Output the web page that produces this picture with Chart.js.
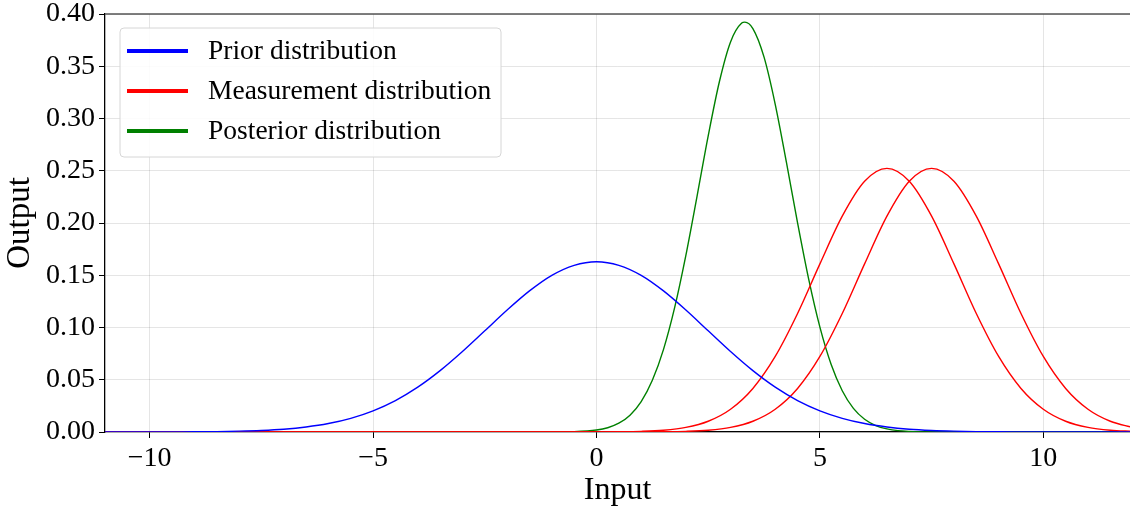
<!DOCTYPE html>
<html>
<head>
<meta charset="utf-8">
<script src="https://cdn.jsdelivr.net/npm/chart.js@4/dist/chart.umd.min.js"></script>
<style>
  html, body { margin: 0; padding: 0; background: #fff; overflow: hidden; }
  #wrap { width: 1130px; height: 509px; position: relative; }
</style>
</head>
<body>
<div id="wrap"><canvas id="c"></canvas></div>
<script>
// Input grid shared by the prior and the two measurement curves
const inputGrid = [
  -11, -10.5, -10, -9.5, -9, -8.5, -8, -7.5, -7, -6.5, -6, -5.5, -5, -4.5, -4, -3.5,
  -3, -2.5, -2, -1.5, -1, -0.5, 0, 0.5, 1, 1.5, 2, 2.5, 3, 3.5, 4, 4.5, 5, 5.5,
  6, 6.5, 7, 7.5, 8, 8.5, 9, 9.5, 10, 10.5, 11, 11.5, 12
];

const priorValues = [
  0.0000, 0.0000, 0.0000, 0.0001, 0.0002, 0.0004, 0.0008, 0.0015, 0.0027, 0.0048, 0.0081, 0.0131,
  0.0203, 0.0301, 0.0429, 0.0587, 0.0770, 0.0968, 0.1167, 0.1350, 0.1499, 0.1595,
  0.1629,
  0.1595, 0.1499, 0.1350, 0.1167, 0.0968, 0.0770, 0.0587, 0.0429, 0.0301, 0.0203, 0.0131,
  0.0081, 0.0048, 0.0027, 0.0015, 0.0008, 0.0004, 0.0002, 0.0001, 0.0000, 0.0000, 0.0000, 0.0000, 0.0000
];

const measurementAValues = [
  0, 0, 0, 0, 0, 0, 0, 0, 0, 0, 0, 0, 0, 0, 0, 0, 0, 0, 0, 0, 0, 0,
  0.0001, 0.0002, 0.0006, 0.0017, 0.0044, 0.0103, 0.0218, 0.0417, 0.0723, 0.1134, 0.1609, 0.2066,
  0.2400, 0.2523, 0.2400, 0.2066, 0.1609, 0.1134, 0.0723, 0.0417, 0.0218, 0.0103, 0.0044, 0.0017, 0.0006
];

const measurementBValues = [
  0, 0, 0, 0, 0, 0, 0, 0, 0, 0, 0, 0, 0, 0, 0, 0, 0, 0, 0, 0, 0, 0,
  0.0000, 0.0000, 0.0001, 0.0002, 0.0006, 0.0017, 0.0044, 0.0103, 0.0218, 0.0417, 0.0723, 0.1134,
  0.1609, 0.2066, 0.2400, 0.2523, 0.2400, 0.2066, 0.1609, 0.1134, 0.0723, 0.0417, 0.0218, 0.0103, 0.0044
];

// The posterior is narrow, so it gets a finer grid around its peak
const posteriorInput = [
  -11, -1, -0.5, 0, 0.25, 0.5, 0.75, 1, 1.25, 1.5, 1.75, 2, 2.25, 2.5, 2.75, 3, 3.25, 3.32,
  3.5, 3.75, 4, 4.25, 4.5, 4.75, 5, 5.25, 5.5, 5.75, 6, 6.25, 6.5, 6.75, 7, 7.5, 8, 12
];
const posteriorValues = [
  0, 0, 0.0003, 0.0019, 0.0041, 0.0084, 0.0161, 0.0291, 0.0495, 0.0791, 0.1192, 0.1690,
  0.2255, 0.2834, 0.3352, 0.3733, 0.3913, 0.3922, 0.3861, 0.3587, 0.3136, 0.2582, 0.2001,
  0.1460, 0.1003, 0.0648, 0.0395, 0.0226, 0.0122, 0.0062, 0.0030, 0.0013, 0.0006, 0.0001, 0, 0
];

const xTicks = [-10, -5, 0, 5, 10];
const yTicks = [0, 0.05, 0.10, 0.15, 0.20, 0.25, 0.30, 0.35, 0.40];

const legendLabels = ['Prior distribution', 'Measurement distribution', 'Posterior distribution'];
const legendColors = ['#0000ff', '#ff0000', '#008000'];

const SERIF = '"Liberation Serif", "DejaVu Serif", "Times New Roman", serif';

function pairs(xs, ys) {
  return xs.map((x, i) => ({ x: x, y: ys[i] }));
}

function curve(label, xs, ys, color) {
  return {
    label: label,
    data: pairs(xs, ys),
    borderColor: color,
    backgroundColor: color,
    borderWidth: 1.4,
    pointRadius: 0,
    fill: false,
    cubicInterpolationMode: 'monotone'
  };
}

// Top spine and the boxed legend inside the plot
const framePlugin = {
  id: 'frame',
  afterDatasetsDraw(chart) {
    const { ctx, chartArea: a } = chart;
    ctx.save();
    ctx.strokeStyle = '#555555';
    ctx.lineWidth = 1.6;
    ctx.beginPath();
    ctx.moveTo(a.left, a.top);
    ctx.lineTo(a.right, a.top);
    ctx.stroke();

    // legend box
    const bx = 120, by = 28, bw = 381, bh = 129, r = 4;
    ctx.beginPath();
    ctx.moveTo(bx + r, by);
    ctx.lineTo(bx + bw - r, by);
    ctx.arcTo(bx + bw, by, bx + bw, by + r, r);
    ctx.lineTo(bx + bw, by + bh - r);
    ctx.arcTo(bx + bw, by + bh, bx + bw - r, by + bh, r);
    ctx.lineTo(bx + r, by + bh);
    ctx.arcTo(bx, by + bh, bx, by + bh - r, r);
    ctx.lineTo(bx, by + r);
    ctx.arcTo(bx, by, bx + r, by, r);
    ctx.closePath();
    ctx.fillStyle = 'rgba(255,255,255,0.85)';
    ctx.fill();
    ctx.strokeStyle = '#d6d6d6';
    ctx.lineWidth = 1;
    ctx.stroke();

    ctx.font = '27.5px ' + SERIF;
    ctx.textBaseline = 'middle';
    ctx.textAlign = 'left';
    legendLabels.forEach((txt, i) => {
      const y = 51 + i * 40;
      ctx.strokeStyle = legendColors[i];
      ctx.lineWidth = 4;
      ctx.lineCap = 'butt';
      ctx.beginPath();
      ctx.moveTo(127, y);
      ctx.lineTo(188, y);
      ctx.stroke();
      ctx.fillStyle = '#000';
      ctx.fillText(txt, 208, y + 1);
    });
    ctx.restore();
  }
};

new Chart(document.getElementById('c'), {
  type: 'line',
  data: {
    datasets: [
      curve('Prior distribution', inputGrid, priorValues, '#0000ff'),
      curve('Measurement distribution', inputGrid, measurementAValues, '#ff0000'),
      curve('Measurement distribution', inputGrid, measurementBValues, '#ff0000'),
      curve('Posterior distribution', posteriorInput, posteriorValues, '#008000')
    ]
  },
  options: {
    responsive: true,
    maintainAspectRatio: false,
    devicePixelRatio: 1,
    animation: false,
    layout: { padding: { top: 14, right: 0, left: 0, bottom: 0 } },
    plugins: { legend: { display: false }, tooltip: { enabled: false } },
    scales: {
      x: {
        type: 'linear',
        min: -11,
        max: 11.94,
        afterBuildTicks(scale) { scale.ticks = xTicks.map(v => ({ value: v })); },
        afterFit(scale) {
          scale.height = 77;
          scale.paddingLeft = 0; scale.paddingRight = 0;
        },
        ticks: {
          color: '#000',
          font: { family: SERIF, size: 28 },
          padding: 4,
          maxRotation: 0,
          callback: v => (v < 0 ? '\u2212' + Math.abs(v) : String(v))
        },
        grid: { color: 'rgba(0,0,0,0.1)', lineWidth: 1, tickColor: '#000', tickLength: 6 },
        border: { color: '#000', width: 1.3 },
        title: {
          display: true,
          text: 'Input',
          color: '#000',
          font: { family: SERIF, size: 32 },
          padding: { top: 0, bottom: -1 }
        }
      },
      y: {
        type: 'linear',
        min: 0,
        max: 0.4,
        afterBuildTicks(scale) { scale.ticks = yTicks.map(v => ({ value: v })); },
        afterFit(scale) {
          scale.width = 105;
          scale.paddingTop = 0; scale.paddingBottom = 0;
        },
        ticks: {
          color: '#000',
          font: { family: SERIF, size: 28 },
          padding: 4,
          callback: v => Number(v).toFixed(2)
        },
        grid: { color: 'rgba(0,0,0,0.1)', lineWidth: 1, tickColor: '#000', tickLength: 6 },
        border: { color: '#000', width: 1.3 },
        title: {
          display: true,
          text: 'Output',
          color: '#000',
          font: { family: SERIF, size: 33 },
          padding: { top: 1, bottom: 0 }
        }
      }
    }
  },
  plugins: [framePlugin]
});
</script>
</body>
</html>
